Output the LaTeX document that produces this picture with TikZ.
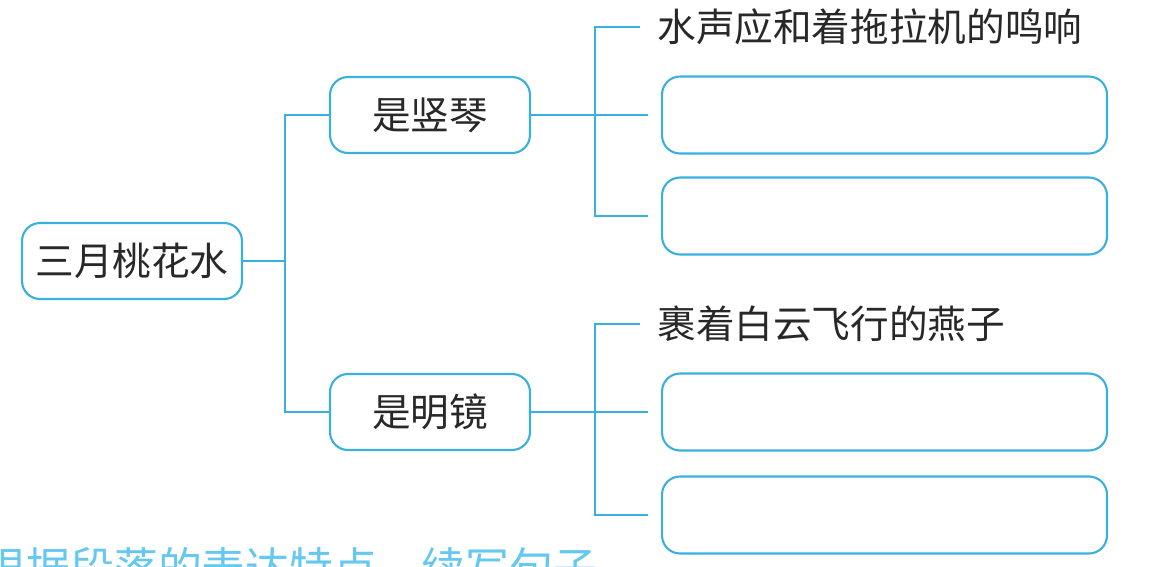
\documentclass[tikz,border=0pt]{standalone}
\usepackage{fontspec}
\newfontfamily\cjk{Noto Sans CJK SC}
\usetikzlibrary{calc}
\usepackage{xcolor}
\definecolor{linecyan}{RGB}{58,176,222}
\definecolor{hintcyan}{RGB}{100,200,240}
\definecolor{inkgray}{RGB}{40,40,40}

\begin{document}
\begin{tikzpicture}[x=.02cm, y=-.02cm,
  box/.style={draw=linecyan, line width=1.2pt, rounded corners=.36cm, minimum height=1.52cm, inner sep=0, font=\cjk\fontsize{22}{22}\selectfont, text=inkgray},
  answer/.style={box, minimum width=8.9cm, minimum height=1.54cm, outer sep=.28cm},
  leaf/.style={font=\cjk\fontsize{22}{22}\selectfont, text=inkgray, inner xsep=.34cm, inner ysep=0},
  hint/.style={font=\cjk\fontsize{25}{25}\selectfont, text=hintcyan, inner sep=0},
  link/.style={linecyan, line width=1.4pt}]
\useasboundingbox (0,0) rectangle (1155,566);
\clip (0,0) rectangle (1155,566);
\node[box, minimum width=4.4cm] (root) at (132,261) {三月桃花水};
\node[box, minimum width=4cm] (harp) at (430,115) {是竖琴};
\node[box, minimum width=4cm] (mirror) at (430,412) {是明镜};
\foreach \n/\y in {1/115,2/216,3/412,4/515}
  \node[answer] (box\n) at (884.5,\y) {};
\node[leaf, anchor=west] (sound) at (640,27) {水声应和着拖拉机的鸣响};
\node[leaf, anchor=west] (swallow) at (640,324) {裹着白云飞行的燕子};
\node[hint, anchor=base west] (task) at (-18,584) {根据段落的表达特点，续写句子};
\coordinate (jl) at (285,261);
\coordinate (ju) at (595,115);
\coordinate (jd) at (595,412);
\draw[link] (root.east) -- (jl);
\draw[link] (harp.west) -| (jl) |- (mirror.west);
\draw[link] (harp.east) -- (box1.west);
\draw[link] (sound.west) -| (ju) |- (box2.west);
\draw[link] (mirror.east) -- (box3.west);
\draw[link] (swallow.west) -| (jd) |- (box4.west);
\end{tikzpicture}
\end{document}
